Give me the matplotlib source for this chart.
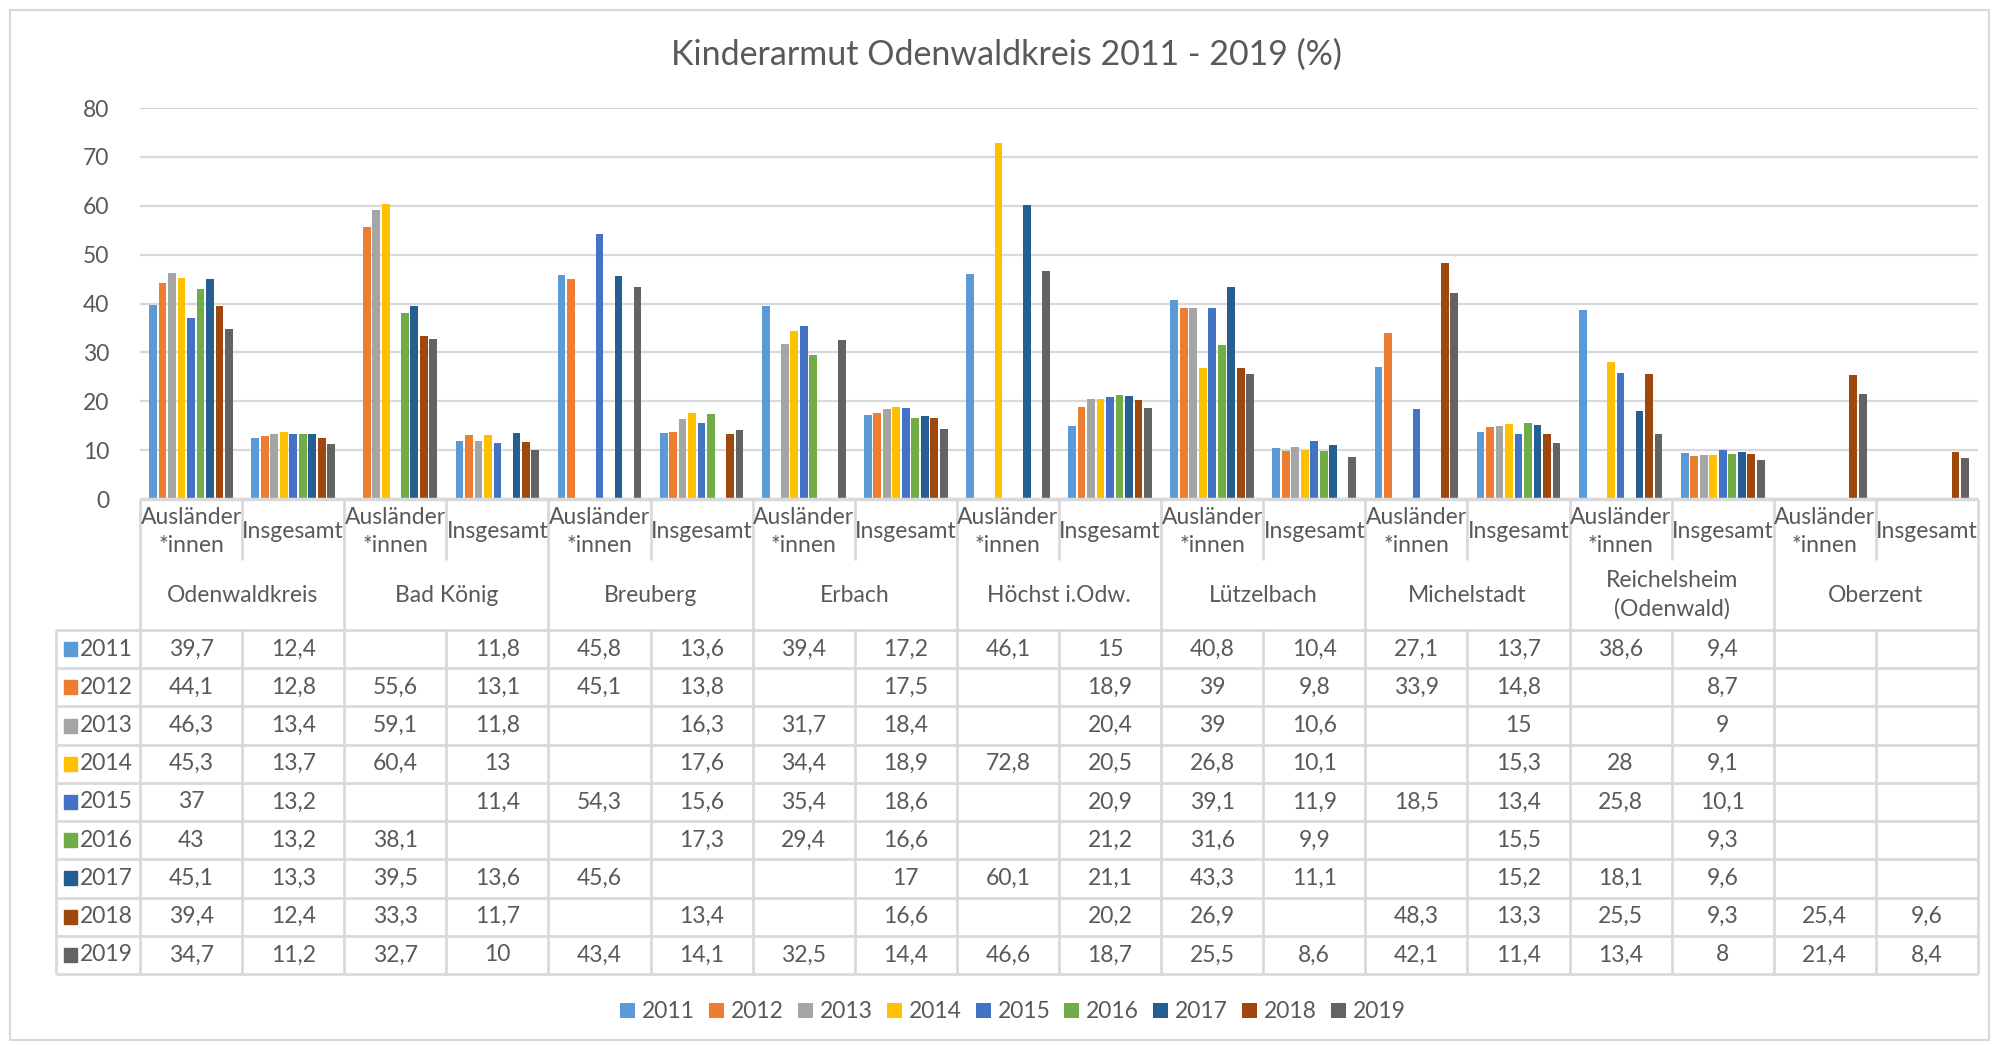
import numpy as np
import matplotlib.pyplot as plt
from matplotlib.patches import Rectangle

plt.rcParams['font.family'] = ['Lato', 'DejaVu Sans']

# data
cities = ['Odenwaldkreis', 'Bad König', 'Breuberg', 'Erbach', 'Höchst i.Odw.',
          'Lützelbach', 'Michelstadt', 'Reichelsheim\n(Odenwald)', 'Oberzent']
groups = ['Ausländer\n*innen', 'Insgesamt']
years = ['2011', '2012', '2013', '2014', '2015', '2016', '2017', '2018', '2019']
nan = np.nan
v2011 = [39.7, 12.4, nan, 11.8, 45.8, 13.6, 39.4, 17.2, 46.1, 15, 40.8, 10.4, 27.1, 13.7, 38.6, 9.4, nan, nan]
v2012 = [44.1, 12.8, 55.6, 13.1, 45.1, 13.8, nan, 17.5, nan, 18.9, 39, 9.8, 33.9, 14.8, nan, 8.7, nan, nan]
v2013 = [46.3, 13.4, 59.1, 11.8, nan, 16.3, 31.7, 18.4, nan, 20.4, 39, 10.6, nan, 15, nan, 9, nan, nan]
v2014 = [45.3, 13.7, 60.4, 13, nan, 17.6, 34.4, 18.9, 72.8, 20.5, 26.8, 10.1, nan, 15.3, 28, 9.1, nan, nan]
v2015 = [37, 13.2, nan, 11.4, 54.3, 15.6, 35.4, 18.6, nan, 20.9, 39.1, 11.9, 18.5, 13.4, 25.8, 10.1, nan, nan]
v2016 = [43, 13.2, 38.1, nan, nan, 17.3, 29.4, 16.6, nan, 21.2, 31.6, 9.9, nan, 15.5, nan, 9.3, nan, nan]
v2017 = [45.1, 13.3, 39.5, 13.6, 45.6, nan, nan, 17, 60.1, 21.1, 43.3, 11.1, nan, 15.2, 18.1, 9.6, nan, nan]
v2018 = [39.4, 12.4, 33.3, 11.7, nan, 13.4, nan, 16.6, nan, 20.2, 26.9, nan, 48.3, 13.3, 25.5, 9.3, 25.4, 9.6]
v2019 = [34.7, 11.2, 32.7, 10, 43.4, 14.1, 32.5, 14.4, 46.6, 18.7, 25.5, 8.6, 42.1, 11.4, 13.4, 8, 21.4, 8.4]
series = [v2011, v2012, v2013, v2014, v2015, v2016, v2017, v2018, v2019]
colors = ['#5B9BD5', '#ED7D31', '#A5A5A5', '#FFC000', '#4472C4',
          '#70AD47', '#255E91', '#9E480E', '#636363']

txt = '#595959'
grid = '#D9D9D9'
fs = 16.5

W, H = 1997, 1045
fig = plt.figure(figsize=(W / 100, H / 100), dpi=100)

# layout in pixels
left, right = 140, 1978
y0, ytop = 499, 108
row1, row2 = 560, 630
rh = (974 - row2) / 9
tab_left = 56
ncol = len(cities) * 2
cw = (right - left) / ncol

ax = fig.add_axes([left / W, 1 - y0 / H, (right - left) / W, (y0 - ytop) / H])
slot, bw = 0.093, 0.076
for j, (vals, c) in enumerate(zip(series, colors)):
    vals = np.array(vals, dtype=float)
    x = np.arange(ncol) + 0.5 + (j - 4) * slot
    ok = ~np.isnan(vals)
    ax.bar(x[ok], vals[ok], width=bw, color=c, label=years[j], zorder=3)
ax.set_xlim(0, ncol)
ax.set_ylim(0, 80)
ax.set_yticks(range(0, 81, 10))
ax.set_xticks([])
ax.yaxis.grid(True, color=grid, lw=1.6, zorder=0)
for s in ax.spines.values():
    s.set_visible(False)
ax.tick_params(axis='y', length=0, pad=22, labelsize=fs, labelcolor=txt)

# data table drawn underneath
tb = fig.add_axes([0, 0, 1, 1])
tb.set_xlim(0, W)
tb.set_ylim(H, 0)
tb.axis('off')
lw = 2
edges = [left + k * cw for k in range(ncol + 1)]
tb.hlines(y0, left, right, color=grid, lw=2.5)
for k, xe in enumerate(edges):
    tb.vlines(xe, y0, row1, color=grid, lw=lw)
    if k % 2 == 0:
        tb.vlines(xe, row1, row2, color=grid, lw=lw)
    tb.vlines(xe, row2, row2 + 9 * rh, color=grid, lw=lw)
tb.vlines(tab_left, row2, row2 + 9 * rh, color=grid, lw=lw)
for i in range(10):
    tb.hlines(row2 + i * rh, tab_left, right, color=grid, lw=lw)

for k in range(ncol):
    tb.text(left + (k + 0.5) * cw, (y0 + row1) / 2 + 2, groups[k % 2], ha='center', va='center',
            fontsize=fs, color=txt, linespacing=1.45)
for i, name in enumerate(cities):
    tb.text(left + (2 * i + 1) * cw, (row1 + row2) / 2, name, ha='center', va='center',
            fontsize=fs, color=txt, linespacing=1.4)


def fmt(v):
    return '' if np.isnan(v) else f'{v:g}'.replace('.', ',')


for j, (vals, c) in enumerate(zip(series, colors)):
    yc = row2 + (j + 0.5) * rh
    tb.add_patch(Rectangle((64, yc - 7), 13, 14, color=c))
    tb.text(80, yc, years[j], ha='left', va='center', fontsize=fs, color=txt)
    for k, v in enumerate(vals):
        tb.text(left + (k + 0.5) * cw, yc, fmt(v), ha='center', va='center',
                fontsize=fs, color=txt)

fig.text(1006 / W, 1 - 55 / H, 'Kinderarmut Odenwaldkreis 2011 - 2019 (%)', ha='center', va='center',
         fontsize=24.5, color=txt)

h, l = ax.get_legend_handles_labels()
fig.legend(h, l, ncol=9, loc='center', bbox_to_anchor=(1013 / W, 1 - 1012 / H), frameon=False,
           fontsize=fs, labelcolor=txt, handlelength=0.65, handleheight=0.65, handletextpad=0.3,
           columnspacing=0.62)

fig.add_artist(Rectangle((10 / W, 5 / H), 1979 / W, 1030 / H, transform=fig.transFigure,
                         fill=False, edgecolor=grid, lw=1.5))

fig.savefig('out.png', dpi=100)
